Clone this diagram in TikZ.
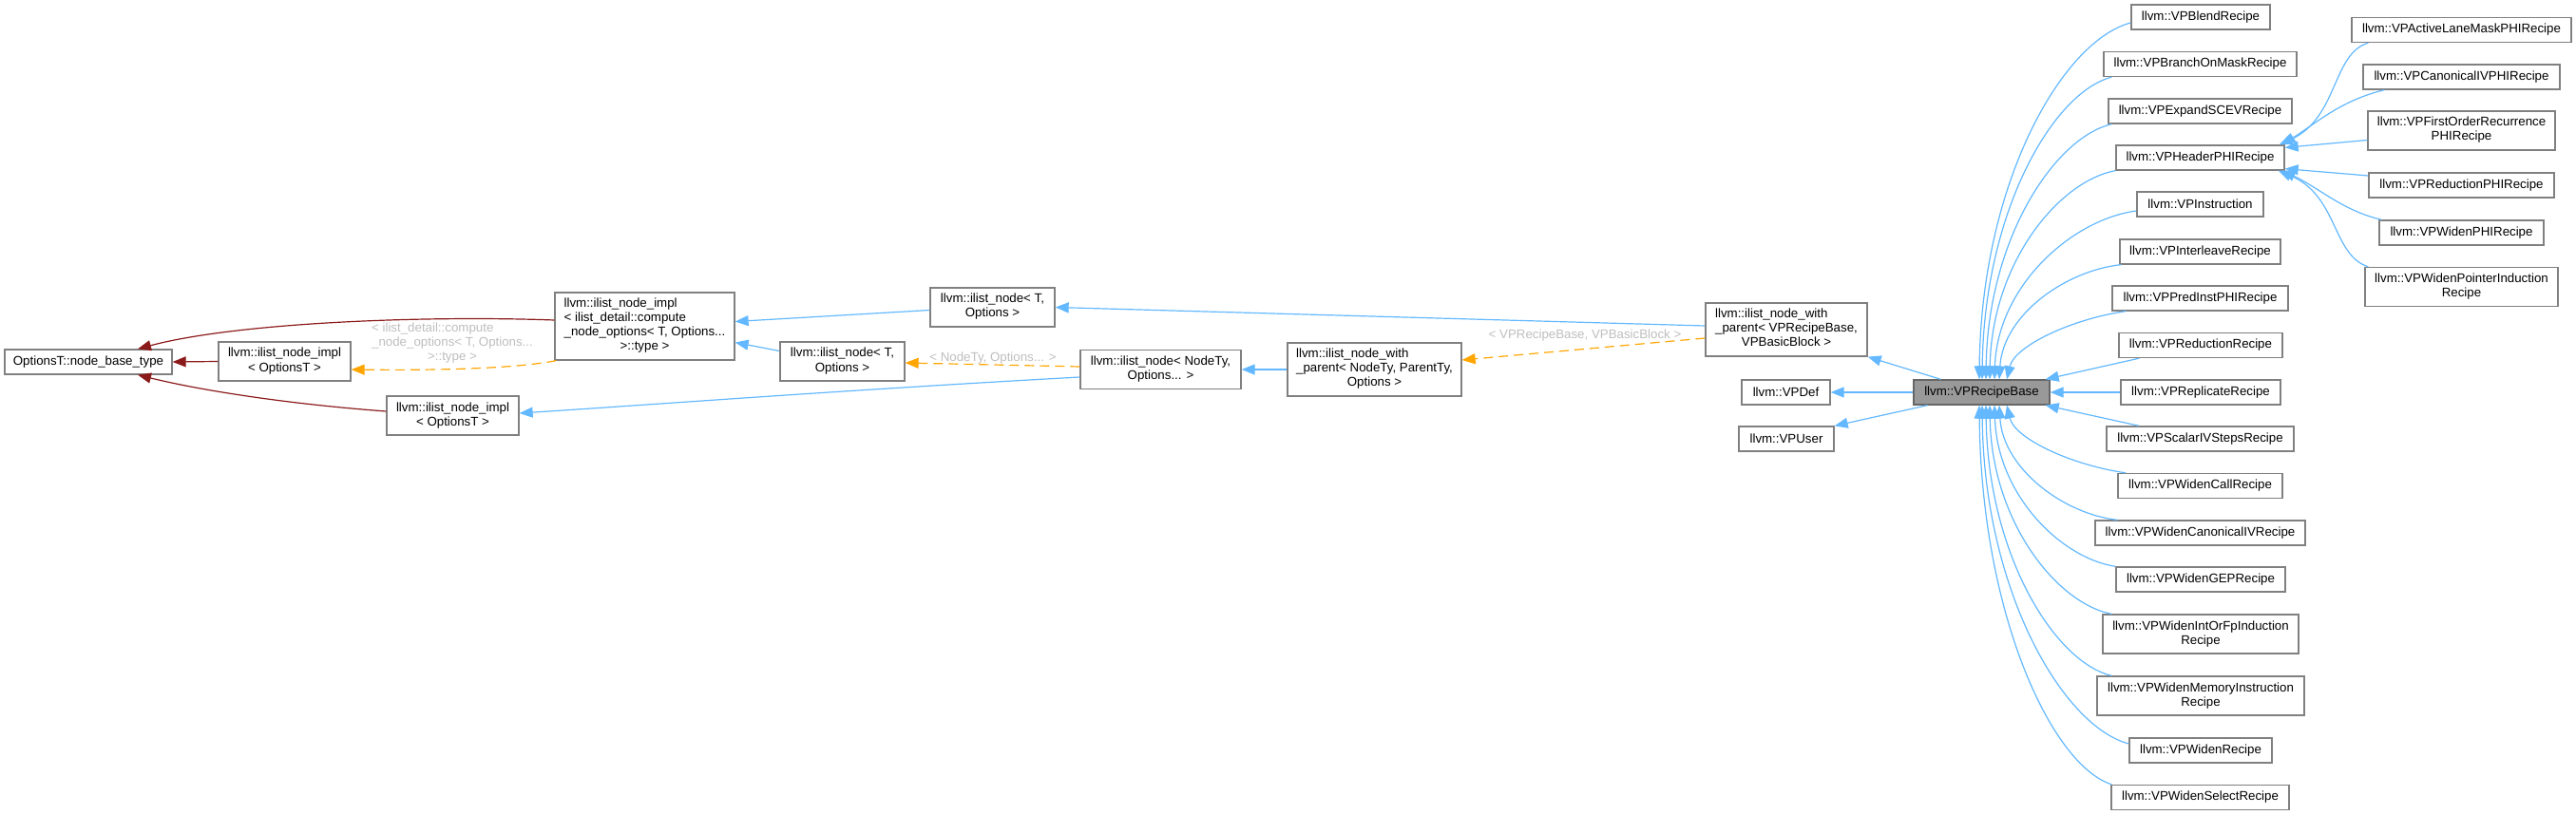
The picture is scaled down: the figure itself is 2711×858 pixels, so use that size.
\documentclass[tikz,border=0pt]{standalone}
\usepackage{fontspec}
\setmainfont{Liberation Sans}
\usetikzlibrary{arrows.meta}
\definecolor{pubc}{HTML}{63B8FF}
\definecolor{privc}{HTML}{8B1A1A}
\definecolor{tmplc}{HTML}{FFA500}
\definecolor{labc}{HTML}{BEBEBE}
\definecolor{bordc}{HTML}{808080}
\definecolor{basefill}{HTML}{999999}
\definecolor{baseborder}{HTML}{666666}
\newcommand{\nf}{\fontsize{13.3}{15}\selectfont}
\newcommand{\clines}[1]{\begin{tabular}{@{}c@{}}#1\end{tabular}}
\newcommand{\llines}[1]{\begin{tabular}{@{}l@{}}#1\end{tabular}}
\newcommand{\lastc}[1]{\multicolumn{1}{@{}c@{}}{#1}}
\begin{document}
\begin{tikzpicture}[x=1pt,y=-1pt,
  box/.style={draw=bordc,line width=1.3pt,fill=white,inner sep=0pt,font=\nf,text=black,minimum height=26},
  basebox/.style={box,draw=baseborder,fill=basefill},
  lbl/.style={font=\nf,text=labc,inner sep=0pt},
  tip/.style={-{Triangle[length=14pt,width=11pt]}},
  pub/.style={draw=pubc,line width=1.2pt,tip},
  priv/.style={draw=privc,line width=1.2pt,tip},
  tmpl/.style={draw=tmplc,line width=1.2pt,dash pattern=on 10pt off 6pt,tip}]
\useasboundingbox (0,0) rectangle (2711,858);

% left group
\node[box,minimum width=176] (ob) at (93,381) {OptionsT::node\_base\_type};
\node[box,minimum width=139,minimum height=41] (impl1) at (299.5,380.5) {\clines{llvm::ilist\_node\_impl\\< OptionsT >}};
\node[box,minimum width=139,minimum height=41] (impl2) at (476.5,437.5) {\clines{llvm::ilist\_node\_impl\\< OptionsT >}};
\node[box,minimum width=189,minimum height=71] (comp) at (678.5,343.5) {\llines{llvm::ilist\_node\_impl\\< ilist\_detail::compute\\\_node\_options< T, Options...\\\lastc{>::type >}}};
\node[box,minimum width=131,minimum height=41] (nodeT1) at (1044.5,323.5) {\clines{llvm::ilist\_node< T,\\Options >}};
\node[box,minimum width=131,minimum height=41] (nodeT2) at (886.5,380.5) {\clines{llvm::ilist\_node< T,\\Options >}};
\node[box,minimum width=169,minimum height=41] (nodeNT) at (1221.5,389) {\clines{llvm::ilist\_node< NodeTy,\\Options... >}};
\node[box,minimum width=183,minimum height=56] (wpNT) at (1446.5,389) {\llines{llvm::ilist\_node\_with\\\_parent< NodeTy, ParentTy,\\\lastc{Options >}}};
\node[box,minimum width=170,minimum height=56] (wpVP) at (1880,347) {\llines{llvm::ilist\_node\_with\\\_parent< VPRecipeBase,\\\lastc{VPBasicBlock >}}};
\node[box,minimum width=93] (vpdef) at (1879.5,413) {llvm::VPDef};
\node[box,minimum width=100] (vpuser) at (1880,462) {llvm::VPUser};
\node[basebox,minimum width=143] (base) at (2085.5,413) {llvm::VPRecipeBase};

% labels
\node[lbl] (lab1) at (476,362) {\llines{< ilist\_detail::compute\\\_node\_options< T, Options...\\\lastc{>::type >}}};
\node[lbl] (lab2) at (1045,377) {< NodeTy, Options... >};
\node[lbl] (lab3) at (1668,353) {< VPRecipeBase, VPBasicBlock >};

% children column
\node[box,minimum width=146] (blend) at (2316,18) {llvm::VPBlendRecipe};
\node[box,minimum width=203] (branch) at (2315.5,67.5) {llvm::VPBranchOnMaskRecipe};
\node[box,minimum width=193] (expand) at (2315.5,117) {llvm::VPExpandSCEVRecipe};
\node[box,minimum width=177] (header) at (2315.5,166) {llvm::VPHeaderPHIRecipe};
\node[box,minimum width=133] (instr) at (2315.5,215) {llvm::VPInstruction};
\node[box,minimum width=169] (inter) at (2315.5,265) {llvm::VPInterleaveRecipe};
\node[box,minimum width=185] (pred) at (2315.5,314) {llvm::VPPredInstPHIRecipe};
\node[box,minimum width=172] (red) at (2316,363.5) {llvm::VPReductionRecipe};
\node[box,minimum width=168] (repl) at (2316,413) {llvm::VPReplicateRecipe};
\node[box,minimum width=197] (scal) at (2315.5,462) {llvm::VPScalarIVStepsRecipe};
\node[box,minimum width=173] (call) at (2315.5,511.5) {llvm::VPWidenCallRecipe};
\node[box,minimum width=221] (canon) at (2315.5,561) {llvm::VPWidenCanonicalIVRecipe};
\node[box,minimum width=178] (gep) at (2316,610) {llvm::VPWidenGEPRecipe};
\node[box,minimum width=206,minimum height=41] (intfp) at (2316,667.5) {\clines{llvm::VPWidenIntOrFpInduction\\Recipe}};
\node[box,minimum width=218,minimum height=41] (mem) at (2316,732.5) {\clines{llvm::VPWidenMemoryInstruction\\Recipe}};
\node[box,minimum width=150] (widen) at (2316,790) {llvm::VPWidenRecipe};
\node[box,minimum width=187] (sel) at (2315.5,839.5) {llvm::VPWidenSelectRecipe};

% header children
\node[box,minimum width=231] (alm) at (2590.5,31.5) {llvm::VPActiveLaneMaskPHIRecipe};
\node[box,minimum width=207] (cphi) at (2590.5,81) {llvm::VPCanonicalIVPHIRecipe};
\node[box,minimum width=197,minimum height=41] (fo) at (2590.5,137.5) {\clines{llvm::VPFirstOrderRecurrence\\PHIRecipe}};
\node[box,minimum width=195] (rphi) at (2590.5,195) {llvm::VPReductionPHIRecipe};
\node[box,minimum width=173] (wphi) at (2590.5,245) {llvm::VPWidenPHIRecipe};
\node[box,minimum width=203,minimum height=41] (wptr) at (2590.5,302) {\clines{llvm::VPWidenPointerInduction\\Recipe}};

% left edges
\draw[priv] ([yshift=6.5pt]comp.west) .. controls +(-134,-5) and +(105,-28) .. ([xshift=52pt]ob.north);
\draw[priv] (impl1.west) -- (ob.east);
\draw[priv] ([yshift=4.5pt]impl2.west) .. controls +(-107,-8) and +(65,16) .. ([xshift=52pt]ob.south);
\draw[tmpl] ([xshift=2pt]comp.south west) .. controls +(-46,9) and +(80,1) .. ([yshift=-8.5pt]impl1.east);
\draw[pub] ([yshift=-3pt]nodeT1.west) -- ([yshift=5pt]comp.east);
\draw[pub] ([yshift=11pt]nodeT2.west) -- ([yshift=-17pt]comp.east);
\draw[tmpl] ([yshift=3pt]nodeNT.west) -- ([yshift=-1.5pt]nodeT2.east);
\draw[pub] ([yshift=-8pt]nodeNT.west) .. controls +(-237,13) and +(154,-10) .. ([yshift=2.5pt]impl2.east);
\draw[pub] (wpNT.west) -- (nodeNT.east);
\draw[pub] ([yshift=4pt]wpVP.west) -- (nodeT1.east);
\draw[tmpl] ([yshift=-9pt]wpVP.west) -- ([yshift=10pt]wpNT.east);
\draw[pub] ([xshift=-43pt]base.north) -- (wpVP.south east);
\draw[pub] (base.west) -- (vpdef.east);
\draw[pub] ([xshift=-57pt]base.south) -- (vpuser.north east);

% children -> base (top)
\draw[pub] ([yshift=-6pt]blend.west) .. controls +(-72,19) and +(2,-207) .. ([xshift=-2.5pt]base.north);
\draw[pub] ([xshift=9pt]branch.south west) .. controls +(-62,16) and +(2,-176) .. ([xshift=0.5pt]base.north);
\draw[pub] ([xshift=4pt]expand.south west) .. controls +(-60,14) and +(2,-148) .. ([xshift=4.5pt]base.north);
\draw[pub] (header.south west) .. controls +(-60,11) and +(2,-122) .. ([xshift=8.5pt]base.north);
\draw[pub] ([yshift=-7pt]instr.west) .. controls +(-68,9) and +(3,-98) .. ([xshift=13.5pt]base.north);
\draw[pub] ([xshift=2pt]inter.south west) .. controls +(-58,6) and +(4,-68) .. ([xshift=18.5pt]base.north);
\draw[pub] ([xshift=15pt]pred.south west) .. controls +(-57,8) and +(8,-35) .. ([xshift=26.5pt]base.north);
\draw[pub] ([xshift=22pt]red.south west) -- ([xshift=-5pt]base.north east);
\draw[pub] (repl.west) -- (base.east);
% children -> base (bottom)
\draw[pub] ([xshift=35pt]scal.north west) -- ([xshift=-5pt]base.south east);
\draw[pub] ([xshift=9pt]call.north west) .. controls +(-57,-8) and +(8,35) .. ([xshift=26.5pt]base.south);
\draw[pub] ([xshift=24pt]canon.north west) .. controls +(-56,-6) and +(4,67) .. ([xshift=18.5pt]base.south);
\draw[pub] (gep.north west) .. controls +(-58,-9) and +(3,94) .. ([xshift=13.5pt]base.south);
\draw[pub] ([xshift=10pt]intfp.north west) .. controls +(-58,-11) and +(2,122) .. ([xshift=8.5pt]base.south);
\draw[pub] ([xshift=16pt]mem.north west) .. controls +(-60,-14) and +(2,157) .. ([xshift=4.5pt]base.south);
\draw[pub] ([yshift=7pt]widen.west) .. controls +(-69,-18) and +(2,196) .. ([xshift=0.5pt]base.south);
\draw[pub] ([xshift=1pt]sel.north west) .. controls +(-63,-20) and +(2,220) .. ([xshift=-2.5pt]base.south);

% header children -> header
\draw[pub] ([xshift=18pt]alm.south west) .. controls +(-38,11) and +(62,-28) .. ([xshift=-6pt]header.north east);
\draw[pub] ([xshift=23pt]cphi.south west) .. controls +(-45,11) and +(39,-25) .. ([xshift=-3pt]header.north east);
\draw[pub] ([yshift=-10pt]fo.west) -- ([yshift=-3pt]header.north east);
\draw[pub] ([yshift=10pt]rphi.west) -- ([yshift=2pt]header.south east);
\draw[pub] ([xshift=3pt]wphi.north west) .. controls +(-42,-10) and +(39,18) .. ([xshift=-3pt]header.south east);
\draw[pub] ([xshift=4pt]wptr.north west) .. controls +(-38,-12) and +(63,26) .. ([xshift=-7pt]header.south east);
\end{tikzpicture}
\end{document}
